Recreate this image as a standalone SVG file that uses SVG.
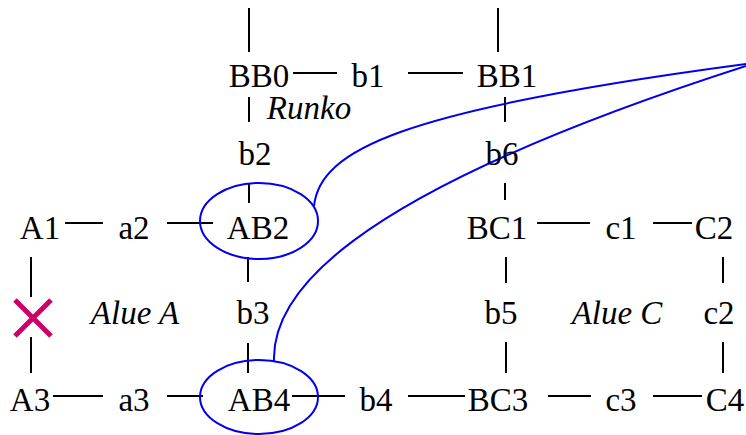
<svg xmlns="http://www.w3.org/2000/svg" width="746" height="435" viewBox="0 0 746 435">
<style>
.e{stroke:#000;stroke-width:2;fill:none}
.b{stroke:#0000ee;stroke-width:2;fill:none}
</style>
<rect width="746" height="435" fill="#fff"/>
<g id="connectors">
<path class="e" d="M249 8V52M498 8V52M293 73H337M408 73H463M249 97V122M505 97V122M249 183V203M505 183V200M65 223H103M167 223H213M537 223H590M653 223H692M31 257V297M31 337V373M248 257V282M248 343V373M506 257V283M506 342V373M723 257V283M723 342V373M53 396H103M167 396H203M292 396H345M408 396H465M548 396H591M653 396H702"/>
<path class="b" d="M314 206C320 150 400 110 746 64"/>
<path class="b" d="M274 361C272 300 330 200 746 66"/>
</g>
<g font-size="33" text-anchor="middle" fill="#000">
<g id="BB0"><text font-family="Liberation Serif" x="259" y="87">BB0</text></g>
<g id="b1"><text font-family="Liberation Serif" x="368" y="87">b1</text></g>
<g id="BB1"><text font-family="Liberation Serif" x="507" y="87">BB1</text></g>
<g id="Runko"><text font-family="Liberation Serif" font-style="italic" x="309" y="119">Runko</text></g>
<g id="b2"><text font-family="Liberation Serif" x="255" y="165">b2</text></g>
<g id="b6"><text font-family="Liberation Serif" x="502" y="165">b6</text></g>
<g id="A1"><text font-family="Liberation Serif" x="40" y="239">A1</text></g>
<g id="a2"><text font-family="Liberation Serif" x="134" y="239">a2</text></g>
<g id="AB2"><ellipse class="b" cx="259" cy="221" rx="59" ry="38"/><text font-family="Liberation Serif" x="258" y="239">AB2</text></g>
<g id="BC1"><text font-family="Liberation Serif" x="497" y="239">BC1</text></g>
<g id="c1"><text font-family="Liberation Serif" x="621" y="239">c1</text></g>
<g id="C2"><text font-family="Liberation Serif" x="714" y="239">C2</text></g>
<g id="X"><path d="M15 300L51 336M51 300L15 336" stroke="#cc0066" stroke-width="5" fill="none"/></g>
<g id="AlueA"><text font-family="Liberation Serif" font-style="italic" x="135" y="324">Alue A</text></g>
<g id="b3"><text font-family="Liberation Serif" x="253" y="324">b3</text></g>
<g id="b5"><text font-family="Liberation Serif" x="501" y="324">b5</text></g>
<g id="AlueC"><text font-family="Liberation Serif" font-style="italic" x="617" y="324">Alue C</text></g>
<g id="c2"><text font-family="Liberation Serif" x="719" y="324">c2</text></g>
<g id="A3"><text font-family="Liberation Serif" x="30" y="411">A3</text></g>
<g id="a3"><text font-family="Liberation Serif" x="134" y="411">a3</text></g>
<g id="AB4"><ellipse class="b" cx="259" cy="397" rx="59" ry="37"/><text font-family="Liberation Serif" x="259" y="411">AB4</text></g>
<g id="b4"><text font-family="Liberation Serif" x="376" y="411">b4</text></g>
<g id="BC3"><text font-family="Liberation Serif" x="498" y="411">BC3</text></g>
<g id="c3"><text font-family="Liberation Serif" x="621" y="411">c3</text></g>
<g id="C4"><text font-family="Liberation Serif" x="725" y="411">C4</text></g>
</g>
</svg>
